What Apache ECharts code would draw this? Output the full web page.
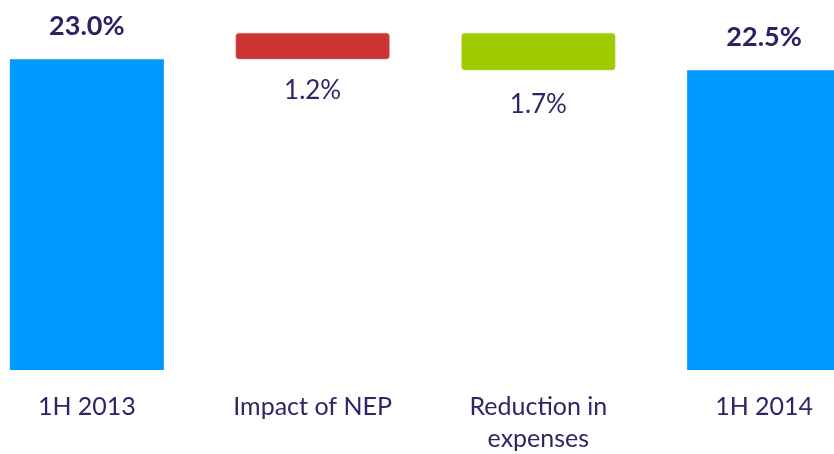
<!DOCTYPE html>
<html>
<head>
<meta charset="utf-8">
<script src="https://cdn.jsdelivr.net/npm/echarts@6/dist/echarts.min.js"></script>
<style>
  html, body { margin: 0; padding: 0; background: #ffffff; }
  #chart { width: 834px; height: 454px; }
</style>
</head>
<body>
<div id="chart"></div>
<script>
// Combined ratio bridge, 1H 2013 to 1H 2014 (%)
const categories = ['1H 2013', 'Impact of NEP', 'Reduction in\nexpenses', '1H 2014'];
const kinds      = ['total', 'up', 'down', 'total'];
const values     = [23.0, 1.2, 1.7, 22.5];

const TEXT = '#2b2767';
const FONT = 'Lato';

// Build the invisible base, the total bars and the step bars of the bridge
const baseData = [], totalData = [], upData = [], downData = [];
let running = 0;
values.forEach((v, i) => {
  const k = kinds[i];
  if (k === 'total') {
    running = v;
    baseData.push(0); totalData.push(v); upData.push('-'); downData.push('-');
  } else if (k === 'up') {
    baseData.push(running); totalData.push('-'); upData.push(v); downData.push('-');
    running += v;
  } else {
    running -= v;
    baseData.push(running); totalData.push('-'); upData.push('-'); downData.push(v);
  }
});

const pct = p => p.value.toFixed(1) + '%';

const chart = echarts.init(document.getElementById('chart'), null, { renderer: 'canvas' });
chart.setOption({
  animation: false,
  grid: {
    left: -26, right: -43, top: 0, bottom: 84,
    containLabel: false, outerBoundsMode: 'none'
  },
  xAxis: {
    type: 'category',
    data: categories,
    axisLine: { show: false },
    axisTick: { show: false },
    axisLabel: {
      color: TEXT, fontFamily: FONT, fontSize: 25, margin: 21,
      lineHeight: 32, interval: 0
    }
  },
  yAxis: {
    type: 'value', min: 8.85, max: 25.7,
    show: false, splitLine: { show: false }
  },
  series: [
    {
      name: 'base', type: 'bar', stack: 'bridge', barWidth: 154,
      data: baseData, itemStyle: { color: 'transparent' }, silent: true
    },
    {
      name: 'total', type: 'bar', stack: 'bridge', data: totalData,
      itemStyle: { color: '#0099ff' },
      label: {
        show: true, position: 'top', distance: 19, formatter: pct,
        color: '#2a2263', fontFamily: FONT, fontSize: 27, fontWeight: 'bold'
      }
    },
    {
      name: 'up', type: 'bar', stack: 'bridge', data: upData,
      itemStyle: { color: '#cc3333', borderRadius: 3, borderColor: '#e07a7a', borderWidth: 0.5 },
      label: {
        show: true, position: 'bottom', distance: 18, formatter: pct,
        color: TEXT, fontFamily: FONT, fontSize: 26
      }
    },
    {
      name: 'down', type: 'bar', stack: 'bridge', data: downData,
      itemStyle: { color: '#9ecc00', borderRadius: 3, borderColor: '#c0dd66', borderWidth: 0.5 },
      label: {
        show: true, position: 'bottom', distance: 21, formatter: pct,
        color: TEXT, fontFamily: FONT, fontSize: 26
      }
    }
  ]
});
</script>
</body>
</html>
